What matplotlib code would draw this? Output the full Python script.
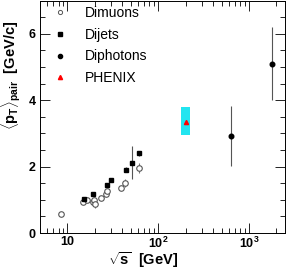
import numpy as np
import matplotlib.pyplot as plt
from matplotlib.ticker import FixedLocator, FuncFormatter, LogLocator, MultipleLocator

plt.rcParams['font.family'] = ['Liberation Sans', 'DejaVu Sans']
plt.rcParams['mathtext.fontset'] = 'custom'
plt.rcParams['mathtext.rm'] = 'Liberation Sans:bold'
plt.rcParams['mathtext.bf'] = 'Liberation Sans:bold'
plt.rcParams['mathtext.it'] = 'Liberation Sans:bold'

# Dimuons
mu_s = [8.6, 15.0, 16.6, 19.1, 19.4, 20.4, 23.3, 26.7, 27.0, 38.5, 43.4, 61.0]
mu_pt = [0.57, 0.93, 1.0, 0.92, 1.0, 0.88, 1.05, 1.17, 1.25, 1.35, 1.52, 1.95]
mu_err = [0.03, 0.03, 0.03, 0.05, 0.05, 0.12, 0.04, 0.05, 0.05, 0.04, 0.12, 0.15]

# Dijets
jet_s = [15.4, 19.2, 27.2, 30.6, 44.1, 51.5, 61.5]
jet_pt = [1.03, 1.18, 1.45, 1.6, 1.91, 2.12, 2.4]
jet_err = [0.03, 0.04, 0.05, 0.05, 0.08, 0.5, 0.08]

# Diphotons
gam_s = [630, 1800]
gam_pt = [2.91, 5.1]
gam_err = [0.9, 1.1]

# PHENIX
phx_s = [200]
phx_pt = [3.35]
phx_sys_s = [180, 222]
phx_sys_pt = [2.95, 3.78]

fig = plt.figure(figsize=(2.86, 2.70), dpi=100)
ax = fig.add_axes([0.14, 0.137, 0.857, 0.861])

ax.fill_between(phx_sys_s, phx_sys_pt[0], phx_sys_pt[1], color='#22e5f0', lw=0, zorder=1)

ax.errorbar(mu_s, mu_pt, yerr=mu_err, fmt='o', mfc='white', mec='#555555', ecolor='#777777',
            ms=4, mew=0.8, elinewidth=0.8, capsize=0, zorder=3)
ax.errorbar(jet_s, jet_pt, yerr=jet_err, fmt='s', color='black', ecolor='#555555',
            ms=3.3, elinewidth=0.8, capsize=0, zorder=4)
ax.errorbar(gam_s, gam_pt, yerr=gam_err, fmt='o', color='black', ecolor='#555555',
            ms=3.3, elinewidth=0.8, capsize=0, zorder=4)
ax.plot(phx_s, phx_pt, '^', color='red', ms=3, zorder=5)

h1, = ax.plot([], [], 'o', mfc='white', mec='#555555', ms=3, mew=0.7)
h2, = ax.plot([], [], 's', color='black', ms=3)
h3, = ax.plot([], [], 'o', color='black', ms=3)
h4, = ax.plot([], [], '^', color='red', ms=3)
ax.legend([h1, h2, h3, h4], ['Dimuons', 'Dijets', 'Diphotons', 'PHENIX'],
          loc='upper left', bbox_to_anchor=(0.03, 1.0), frameon=False, fontsize=10,
          handlelength=1.0, handletextpad=1.3, labelspacing=0.55, borderaxespad=0)

ax.set_xscale('log')
ax.set_xlim(5, 2500)
ax.set_ylim(0, 7)

ax.xaxis.set_major_locator(FixedLocator([10, 100, 1000]))
ax.xaxis.set_minor_locator(LogLocator(base=10, subs=np.arange(2, 10)))
labs = {10: '10', 100: r'$\mathbf{10^{2}}$', 1000: r'$\mathbf{10^{3}}$'}
ax.xaxis.set_major_formatter(FuncFormatter(lambda v, p: labs.get(int(round(v)), '')))
ax.xaxis.set_minor_formatter(FuncFormatter(lambda v, p: ''))
ax.yaxis.set_major_locator(MultipleLocator(2))
ax.yaxis.set_minor_locator(MultipleLocator(0.5))

ax.tick_params(which='both', direction='in', top=True, right=True, width=0.6, labelsize=9)
ax.tick_params(which='major', length=7)
ax.tick_params(which='minor', length=3.5)
ax.tick_params(axis='x', pad=2)
ax.tick_params(axis='y', pad=3)
for t in ax.get_xticklabels() + ax.get_yticklabels():
    t.set_fontweight('bold')
for s in ax.spines.values():
    s.set_linewidth(0.7)

ax.set_xlabel(r'$\sqrt{\mathbf{s}}$  [GeV]', fontsize=10.5, fontweight='bold', va='bottom')
ax.xaxis.set_label_coords(0.42, -0.16)
ax.set_ylabel(r'$\langle\mathbf{p}_{\mathbf{T}}\rangle_{\mathbf{pair}}$  [GeV/c]', fontsize=10.5,
              fontweight='bold')
ax.yaxis.set_label_coords(-0.068, 0.68)

fig.savefig('out.png', dpi=100)
